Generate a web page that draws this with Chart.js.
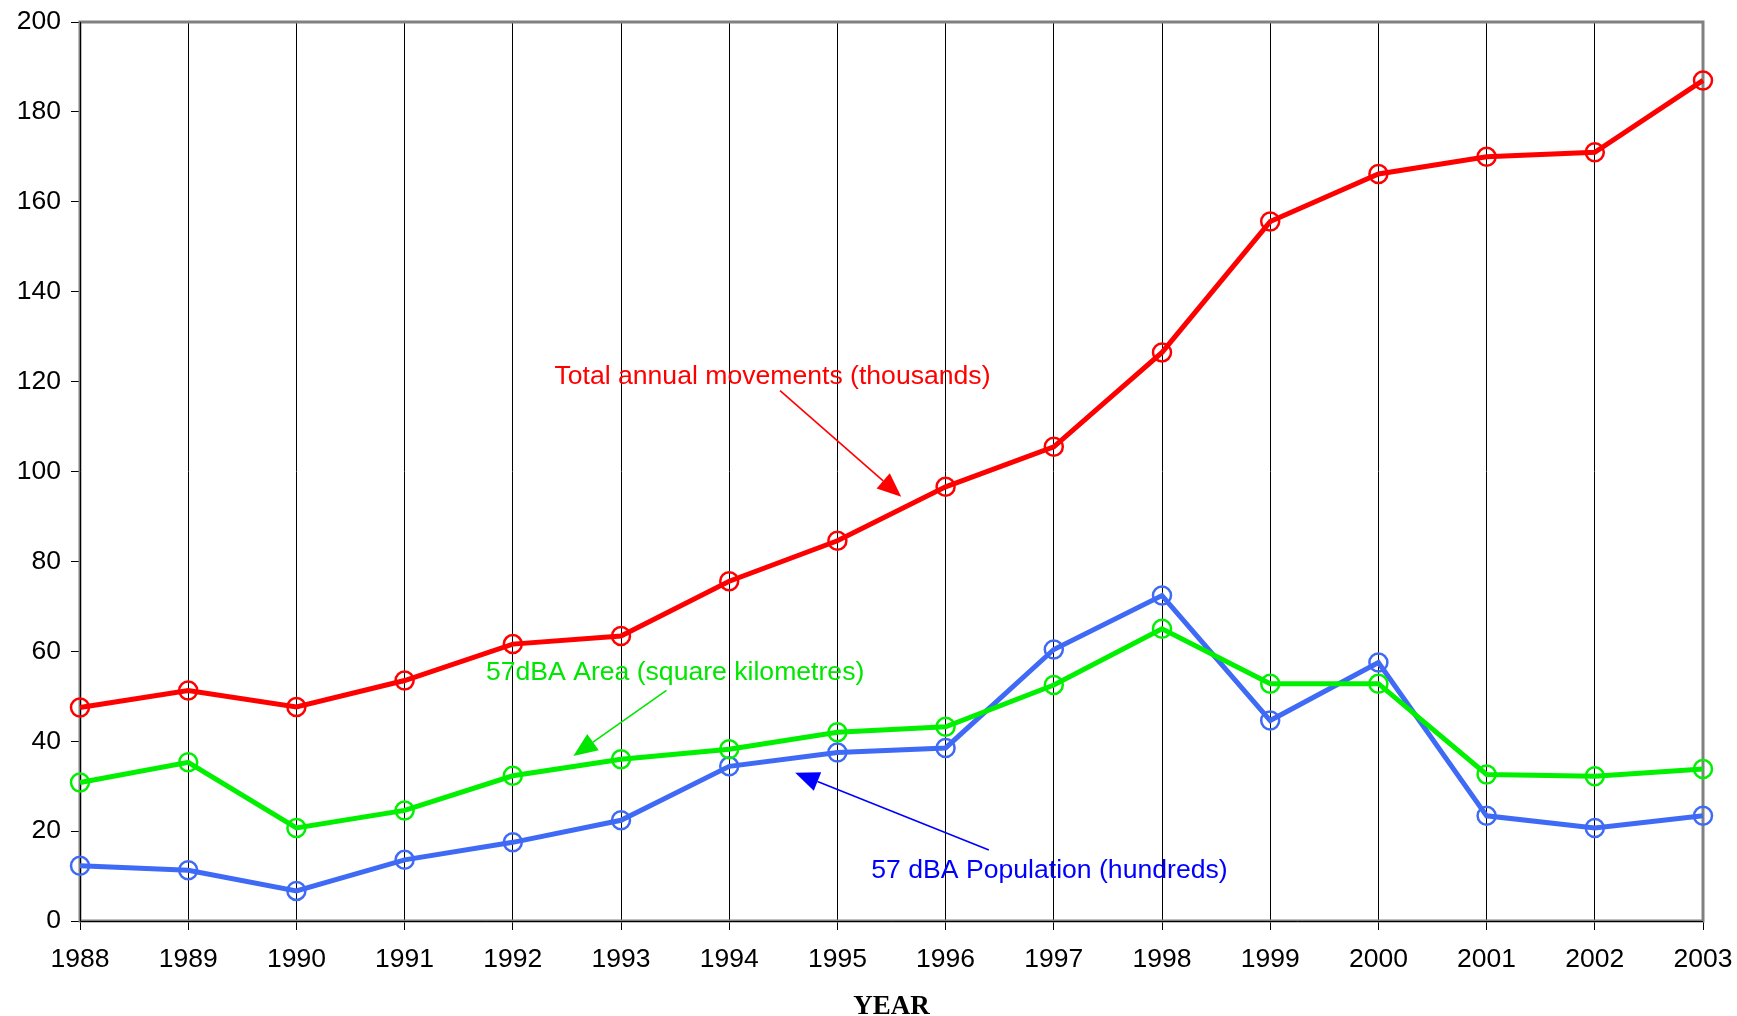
<!DOCTYPE html>
<html>
<head>
<meta charset="utf-8">
<script src="https://cdn.jsdelivr.net/npm/chart.js@4/dist/chart.umd.min.js"></script>
<style>
  html, body { margin: 0; padding: 0; background: #fff; }
  #wrap { width: 1737px; height: 1016px; }
</style>
</head>
<body>
<div id="wrap"><canvas id="noiseChart" width="1737" height="1016"></canvas></div>
<script>
// values
const years = ['1988', '1989', '1990', '1991', '1992', '1993', '1994', '1995',
               '1996', '1997', '1998', '1999', '2000', '2001', '2002', '2003'];
const movements = [47.5, 51.3, 47.6, 53.5, 61.6, 63.4, 75.6, 84.6, 96.6, 105.5, 126.5, 155.6, 166.2, 170.0, 171.0, 187.0];
const area = [30.8, 35.3, 20.7, 24.6, 32.3, 36.0, 38.2, 42.0, 43.2, 52.5, 65.0, 52.8, 52.8, 32.6, 32.2, 33.8];
const population = [12.3, 11.3, 6.7, 13.6, 17.5, 22.4, 34.4, 37.5, 38.5, 60.4, 72.4, 44.6, 57.5, 23.4, 20.7, 23.4];
const yTicks = [0, 20, 40, 60, 80, 100, 120, 140, 160, 180, 200];

// callout labels, anchored in data space (x = year index, y = value)
const notes = [
  { text: 'Total annual movements (thousands)', color: '#ff0000', at: [6.40, 121.1], from: [6.47, 118.0], to: [7.59, 94.4] },
  { text: '57dBA Area (square kilometres)', color: '#00e600', at: [5.50, 55.2], from: [5.42, 51.3], to: [4.56, 36.7] },
  { text: '57 dBA Population (hundreds)', color: '#0000ff', at: [8.96, 11.1], from: [8.40, 15.8], to: [6.61, 33.0] }
];

const labelFont = '"Liberation Sans", Arial, sans-serif';

// gray frame round the plot area
const framePlugin = {
  id: 'frame',
  beforeDatasetsDraw(chart) {
    const { ctx, chartArea: a } = chart;
    ctx.save();
    ctx.strokeStyle = '#808080';
    ctx.lineWidth = 3;
    ctx.strokeRect(a.left, a.top, a.right - a.left, a.bottom - a.top);
    ctx.strokeStyle = '#000';
    ctx.lineWidth = 1;
    ctx.beginPath();
    ctx.moveTo(a.left + 0.5, a.top);
    ctx.lineTo(a.left + 0.5, a.bottom + 0.5);
    ctx.lineTo(a.right, a.bottom + 0.5);
    ctx.stroke();
    ctx.restore();
  }
};

// text callouts with arrows
const notesPlugin = {
  id: 'notes',
  afterDatasetsDraw(chart) {
    const { ctx, scales: { x, y } } = chart;
    ctx.save();
    notes.forEach(n => {
      const tx = x.getPixelForValue(n.at[0]), ty = y.getPixelForValue(n.at[1]);
      const x1 = x.getPixelForValue(n.from[0]), y1 = y.getPixelForValue(n.from[1]);
      const x2 = x.getPixelForValue(n.to[0]), y2 = y.getPixelForValue(n.to[1]);
      ctx.fillStyle = n.color;
      ctx.strokeStyle = n.color;
      ctx.font = '26.6px ' + labelFont;
      ctx.textAlign = 'center';
      ctx.textBaseline = 'middle';
      ctx.fillText(n.text, tx, ty);

      const ang = Math.atan2(y2 - y1, x2 - x1);
      const headLen = 24, headW = 10;
      const bx = x2 - headLen * Math.cos(ang), by = y2 - headLen * Math.sin(ang);
      ctx.lineWidth = 1.6;
      ctx.beginPath();
      ctx.moveTo(x1, y1);
      ctx.lineTo(bx, by);
      ctx.stroke();
      ctx.beginPath();
      ctx.moveTo(x2, y2);
      ctx.lineTo(bx + headW * Math.sin(ang), by - headW * Math.cos(ang));
      ctx.lineTo(bx - headW * Math.sin(ang), by + headW * Math.cos(ang));
      ctx.closePath();
      ctx.fill();
    });
    ctx.restore();
  }
};

function series(data, color) {
  return {
    data: data,
    borderColor: color,
    backgroundColor: 'transparent',
    borderWidth: 5,
    pointRadius: 9,
    pointBorderWidth: 2.5,
    pointBorderColor: color,
    pointBackgroundColor: 'rgba(0,0,0,0)',
    tension: 0,
    clip: false
  };
}

const ctx = document.getElementById('noiseChart').getContext('2d');
new Chart(ctx, {
  type: 'line',
  data: {
    labels: years,
    datasets: [
      series(movements, '#ff0000'),
      series(area, '#00f000'),
      series(population, '#3f6af5')
    ]
  },
  options: {
    responsive: false,
    animation: false,
    layout: { padding: { top: 22, right: 34, left: 0, bottom: 0 } },
    plugins: {
      legend: { display: false },
      tooltip: { enabled: false }
    },
    scales: {
      x: {
        offset: false,
        grid: { color: '#000', lineWidth: 1, tickLength: 9, drawTicks: true },
        border: { display: false },
        ticks: { color: '#000', font: { family: labelFont, size: 26.5 }, padding: 14, maxRotation: 0, autoSkip: false },
        title: {
          display: true, text: 'YEAR', color: '#000',
          font: { family: '"Liberation Serif", "Times New Roman", serif', size: 27, weight: 'bold' },
          padding: { top: 0, bottom: -7 }
        },
        afterFit(scale) {
          scale.height = 95;
          scale.paddingLeft = 0;
          scale.paddingRight = 0;
        }
      },
      y: {
        min: 0,
        max: 200,
        afterBuildTicks(scale) { scale.ticks = yTicks.map(v => ({ value: v })); },
        grid: { drawOnChartArea: false, drawTicks: true, tickLength: 9, color: '#000' },
        border: { display: false },
        ticks: { color: '#000', font: { family: labelFont, size: 26.5 }, padding: 10 },
        afterFit(scale) {
          scale.width = 80;
          scale.paddingTop = 0;
          scale.paddingBottom = 0;
        }
      }
    }
  },
  plugins: [framePlugin, notesPlugin]
});
</script>
</body>
</html>
